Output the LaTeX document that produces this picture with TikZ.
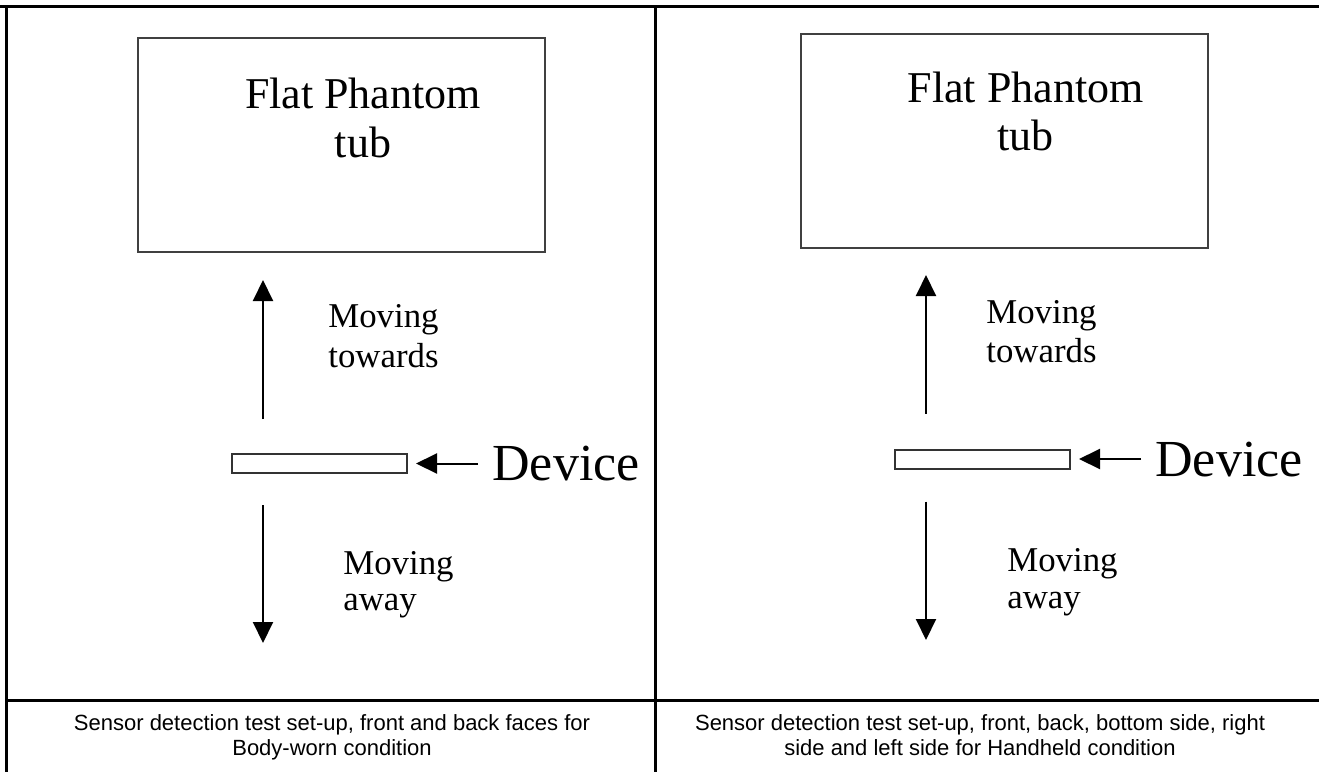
\documentclass[tikz,border=0pt]{standalone}
\usepackage{fontspec}
\setmainfont{Liberation Serif}
\newfontfamily\capfont{Liberation Sans}
\usetikzlibrary{arrows.meta}
\tikzset{>={Triangle[length=10.5pt,width=10pt]}}
\tikzset{
  grid/.style = {line width=1.5pt},
  tub/.style = {draw=black!75, line width=1pt, minimum width=203.5pt, minimum height=107pt, inner sep=0pt},
  device/.style = {draw=black!80, line width=1pt, minimum width=87.5pt, minimum height=9.5pt, inner sep=0pt},
  move/.style = {->, line width=1pt},
  tubtext/.style = {anchor=base, inner sep=0pt, font=\fontsize{22}{24}\selectfont},
  movetext/.style = {anchor=base west, inner sep=0pt, font=\fontsize{17.4}{19}\selectfont},
  devtext/.style = {anchor=base west, inner sep=0pt, font=\fontsize{26}{28}\selectfont},
  captext/.style = {anchor=base, inner sep=0pt, font=\capfont\fontsize{11}{13}\selectfont}
}

\begin{document}
\begin{tikzpicture}[x=0.5pt,y=-0.5pt]
  \useasboundingbox (0,0) rectangle (1319,772);
  % table
  \draw[grid] (0,6) -- (1319,6);
  \draw[grid] (6,700) -- (1319,700);
  \draw[grid] (6,6) -- (6,772);
  \draw[grid] (655,6) -- (655,772);
  % left panel
  \node[tub] (tubL) at (341.5,145) {};
  \node[tubtext] (tubtxtL) at (363,108) {Flat Phantom};
  \node[tubtext] (tubtxtLb) at (363,157) {tub};
  \node[device] (devL) at (319.5,463.5) {};
  \node[devtext] (devtxtL) at (492,480) {Device};
  \coordinate (upL) at (263,280);
  \coordinate (downL) at (263,643);
  \draw[move] ([yshift=17pt]devL.north -| upL) -- (upL);
  \draw[move] ([yshift=-15.5pt]devL.south -| downL) -- (downL);
  \draw[move, shorten <=7pt, shorten >=4pt] (devtxtL.west |- devL.east) -- (devL.east);
  \node[movetext] (towL) at (328,327) {Moving};
  \node[movetext] (towLb) at (328,367) {towards};
  \node[movetext] (awayL) at (343,574) {Moving};
  \node[movetext] (awayLb) at (343,610) {away};
  % right panel
  \node[tub] (tubR) at (1004,140.5) {};
  \node[tubtext] (tubtxtR) at (1025.5,102) {Flat Phantom};
  \node[tubtext] (tubtxtRb) at (1025.5,150) {tub};
  \node[device] (devR) at (982.5,459) {};
  \node[devtext] (devtxtR) at (1155,476) {Device};
  \coordinate (upR) at (926,275);
  \coordinate (downR) at (926,640);
  \draw[move] ([yshift=17.5pt]devR.north -| upR) -- (upR);
  \draw[move] ([yshift=-16pt]devR.south -| downR) -- (downR);
  \draw[move, shorten <=7pt, shorten >=4pt] (devtxtR.west |- devR.east) -- (devR.east);
  \node[movetext] (towR) at (986,323) {Moving};
  \node[movetext] (towRb) at (986,362) {towards};
  \node[movetext] (awayR) at (1007,571) {Moving};
  \node[movetext] (awayRb) at (1007,608) {away};
  % captions
  \node[captext] (capL) at (332,730) {Sensor detection test set-up, front and back faces for};
  \node[captext] (capLb) at (332,755) {Body-worn condition};
  \node[captext] (capR) at (980,730) {Sensor detection test set-up, front, back, bottom side, right};
  \node[captext] (capRb) at (980,755) {side and left side for Handheld condition};
\end{tikzpicture}
\end{document}
